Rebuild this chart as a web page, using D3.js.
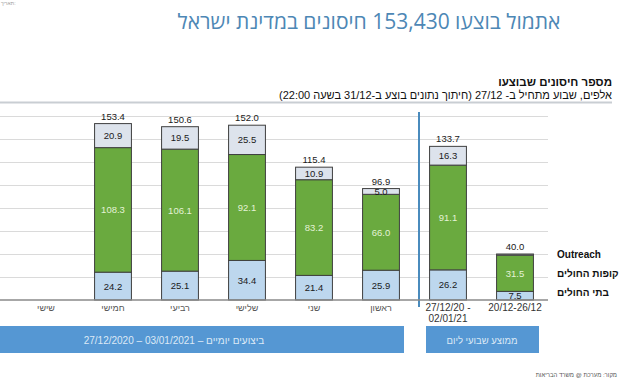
<!DOCTYPE html>
<html><head><meta charset="utf-8">
<script src="https://cdn.jsdelivr.net/npm/d3@7"></script>
<style>
html,body{margin:0;padding:0;background:#fff;}
svg{display:block;font-family:"Liberation Sans",Arial,sans-serif;}
</style></head>
<body>
<svg id="chart" width="624" height="383"></svg>
<script>
// ---- data ----
const categories = ["שישי","חמישי","רביעי","שלישי","שני","ראשון","27/12/20 -\n02/01/21","20/12-26/12"];
const hospitals  = [null, 24.2, 25.1, 34.4, 21.4, 25.9, 26.2, 7.5];
const hmos       = [null, 108.3, 106.1, 92.1, 83.2, 66.0, 91.1, 31.5];
const outreach   = [null, 20.9, 19.5, 25.5, 10.9, 5.0, 16.3, 1.0];
const outreachLabels = ["", "20.9", "19.5", "25.5", "10.9", "5.0", "16.3", ""];
const totals     = [null, 153.4, 150.6, 152.0, 115.4, 96.9, 133.7, 40.0];
const seriesNames = ["Outreach", "קופות החולים", "בתי החולים"];
const yTicks = [20, 40, 60, 80, 100, 120, 140, 160];
const titleText = "אתמול בוצעו 153,430 חיסונים במדינת ישראל";
const chartHeader = "מספר חיסונים שבוצעו";
const chartSub = "אלפים, שבוע מתחיל ב- 27/12 (חיתוך נתונים בוצע ב-31/12 בשעה 22:00)";
const bannerDaily = "ביצועים יומיים – 03/01/2021 – 27/12/2020";
const bannerWeekly = "ממוצע שבועי ליום";
const sourceText = "מקור: מערכת @ משרד הבריאות";

const svg = d3.select("#chart");
const colBlue = "#bdd7ee", colGreen = "#6aaa3f", colTop = "#dde3ec", stroke = "#3f3f3f";

const x = d3.scaleBand().domain(categories).range([12.5, 548.5]).paddingInner(0.45).paddingOuter(0.225);
const y = d3.scaleLinear().domain([0, 160]).range([300, 116]);

// title
svg.append("text").attr("x", 369).attr("y", 29).attr("text-anchor", "middle")
  .attr("direction", "rtl").style("direction","rtl")
  .attr("font-family", "'Open Sans','Liberation Sans',sans-serif")
  .attr("font-size", 21).attr("fill", "#4d87b5").text(titleText);

// tiny top-left
svg.append("text").attr("x", 1).attr("y", 5).attr("font-size", 5).attr("fill", "#999").text("תאריך:");

// header
svg.append("text").attr("x", 612).attr("y", 86).attr("text-anchor", "start")
  .attr("direction", "rtl").style("direction","rtl")
  .attr("font-size", 11.5).attr("font-weight", "bold").attr("fill", "#111").text(chartHeader);
svg.append("text").attr("x", 612).attr("y", 99).attr("text-anchor", "start")
  .attr("direction", "rtl").style("direction","rtl")
  .attr("font-size", 11).attr("fill", "#111").text(chartSub);
svg.append("line").attr("x1", 0).attr("x2", 612).attr("y1", 102.5).attr("y2", 102.5)
  .attr("stroke", "#c9ced3").attr("stroke-width", 2);

// grid
const grid = svg.append("g")
  .call(d3.axisLeft(y).tickValues(yTicks).tickSize(-548).tickFormat(""));
grid.select(".domain").remove();
grid.selectAll(".tick line").attr("stroke", "#dadada").attr("stroke-width", 1);

// separator
svg.append("line").attr("x1", 419).attr("x2", 419).attr("y1", 112).attr("y2", 307)
  .attr("stroke", "#4a8bbd").attr("stroke-width", 2);

// bars
const rows = categories.map((c, i) => ({c, i, h: hospitals[i], g: hmos[i], o: outreach[i]})).filter(d => d.h != null);
const bw = x.bandwidth();
const bars = svg.append("g");
rows.forEach(d => {
  const x0 = x(d.c);
  const segs = [
    {v0: 0, v1: d.h, fill: colBlue, label: d.h.toFixed(1), tc: "#1a1a1a"},
    {v0: d.h, v1: d.h + d.g, fill: colGreen, label: d.g.toFixed(1), tc: "#e4f2d6"},
    {v0: d.h + d.g, v1: d.h + d.g + d.o, fill: colTop, label: outreachLabels[d.i], tc: "#1a1a1a"}
  ];
  segs.forEach(s => {
    bars.append("rect").attr("x", x0).attr("width", bw)
      .attr("y", y(s.v1)).attr("height", y(s.v0) - y(s.v1))
      .attr("fill", s.fill).attr("stroke", stroke).attr("stroke-width", 1);
  });
  segs.forEach(s => {
    if (!s.label) return;
    bars.append("text").attr("x", x0 + bw / 2).attr("y", (y(s.v0) + y(s.v1)) / 2 + 3.5)
      .attr("text-anchor", "middle").attr("font-size", 9.5).attr("fill", s.tc).text(s.label);
  });
  bars.append("text").attr("x", x0 + bw / 2).attr("y", y(totals[d.i]) - 4)
    .attr("text-anchor", "middle").attr("font-size", 9.5).attr("fill", "#1a1a1a").text(totals[d.i].toFixed(1));
});

// baseline
svg.append("line").attr("x1", 0).attr("x2", 548).attr("y1", y(0)).attr("y2", y(0))
  .attr("stroke", "#8a8a8a").attr("stroke-width", 1.5);

// x axis labels
const xa = svg.append("g").attr("transform", `translate(0,${y(0)})`)
  .call(d3.axisBottom(x).tickSize(0).tickFormat(""));
xa.select(".domain").remove();
xa.selectAll(".tick").each(function(c, i) {
  const lines = c.split("\n");
  const t = d3.select(this).append("text").attr("text-anchor", "middle")
    .attr("fill", i < 6 ? "#555" : "#333").attr("font-size", i < 6 ? 9 : 10);
  lines.forEach((l, k) => t.append("tspan").attr("x", 0).attr("y", 11 + k * 11).text(l));
});

// legend (series names beside last bar)
const last = rows[rows.length - 1];
const legY = [y(last.h + last.g + last.o), y(last.h + last.g / 2), y(last.h / 2) - 3];
seriesNames.forEach((n, k) => {
  svg.append("text").attr("x", 557).attr("y", legY[k] + 3.5).attr("font-size", 10)
    .attr("font-weight", "bold").attr("fill", "#111").text(n);
});

// banners
svg.append("rect").attr("x", 0).attr("y", 326).attr("width", 404).attr("height", 27).attr("fill", "#5597d3");
svg.append("text").attr("x", 174).attr("y", 343.5).attr("text-anchor", "middle")
  .attr("direction", "rtl").style("direction","rtl")
  .attr("font-size", 10).attr("fill", "#dce9f6").text(bannerDaily);
svg.append("rect").attr("x", 426).attr("y", 326).attr("width", 113).attr("height", 27).attr("fill", "#5597d3");
svg.append("text").attr("x", 482).attr("y", 343.5).attr("text-anchor", "middle")
  .attr("direction", "rtl").style("direction","rtl")
  .attr("font-size", 9.5).attr("fill", "#dce9f6").text(bannerWeekly);

// source
svg.append("text").attr("x", 617).attr("y", 377).attr("text-anchor", "start")
  .attr("direction", "rtl").style("direction","rtl")
  .attr("font-size", 6).attr("fill", "#555").text(sourceText);
</script>
</body></html>
